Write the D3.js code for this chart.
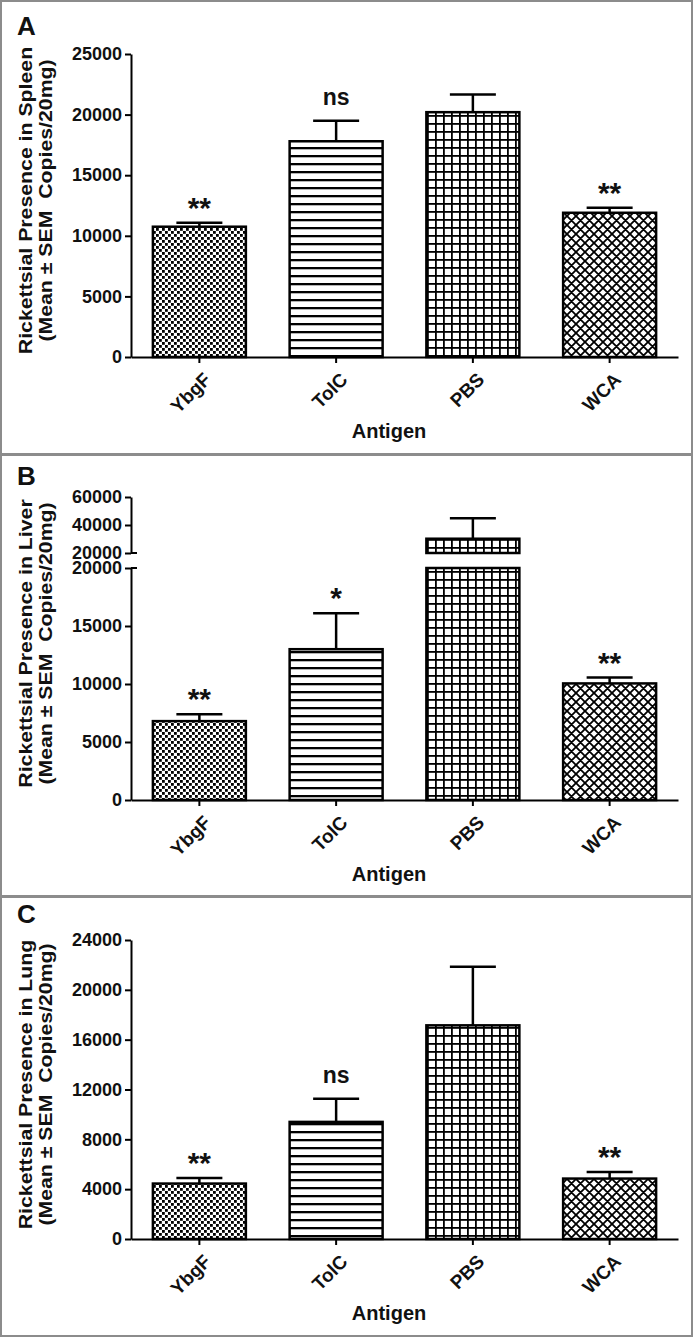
<!DOCTYPE html>
<html><head><meta charset="utf-8">
<script src="https://cdn.jsdelivr.net/npm/d3@7"></script>
<style>
body{margin:0;background:#fff}
svg{display:block}
text{font-family:"Liberation Sans",Arial,sans-serif;font-weight:bold;fill:#111}
</style>
</head><body><svg id="c" width="694" height="1337"></svg>
<script>
// ---------- DATA ----------
const categories = ["YbgF", "TolC", "PBS", "WCA"];
const patternIds = ["checker", "hlines", "grid", "cross"];

const spleenMean = [10750, 17800, 20200, 11900];
const spleenSem = [330, 1700, 1450, 420];
const spleenMarks = ["**", "ns", "", "**"];
const spleenTicks = [0, 5000, 10000, 15000, 20000, 25000];

const liverMean = [6800, 13000, 30200, 10050];
const liverSem = [600, 3100, 14600, 500];
const liverMarks = ["**", "*", "", "**"];
const liverLowTicks = [0, 5000, 10000, 15000, 20000];
const liverHighTicks = [20000, 40000, 60000];

const lungMean = [4450, 9400, 17150, 4850];
const lungSem = [450, 1850, 4700, 520];
const lungMarks = ["**", "ns", "", "**"];
const lungTicks = [0, 4000, 8000, 12000, 16000, 20000, 24000];

const xTitle = "Antigen";
const titleLine2 = "(Mean \u00B1 SEM\u00A0 Copies/20mg)";

// ---------- SETUP ----------
const svg = d3.select("#c");
const defs = svg.append("defs");

// checkerboard
let p = defs.append("pattern").attr("id", "checker").attr("patternUnits", "userSpaceOnUse").attr("width", 6).attr("height", 6);
p.append("rect").attr("width", 6).attr("height", 6).attr("fill", "#fff");
p.append("rect").attr("width", 2.8).attr("height", 2.8).attr("fill", "#000");
p.append("rect").attr("x", 3).attr("y", 3).attr("width", 2.8).attr("height", 2.8).attr("fill", "#000");
// horizontal lines
p = defs.append("pattern").attr("id", "hlines").attr("patternUnits", "userSpaceOnUse").attr("width", 8).attr("height", 8);
p.append("rect").attr("width", 8).attr("height", 8).attr("fill", "#fff");
p.append("rect").attr("y", 3).attr("width", 8).attr("height", 2.3).attr("fill", "#000");
// grid
p = defs.append("pattern").attr("id", "grid").attr("patternUnits", "userSpaceOnUse").attr("width", 8).attr("height", 8);
p.append("rect").attr("width", 8).attr("height", 8).attr("fill", "#fff");
p.append("rect").attr("y", 3).attr("width", 8).attr("height", 1.8).attr("fill", "#000");
p.append("rect").attr("x", 3).attr("width", 1.8).attr("height", 8).attr("fill", "#000");
// diagonal crosshatch
p = defs.append("pattern").attr("id", "cross").attr("patternUnits", "userSpaceOnUse").attr("width", 9).attr("height", 9);
p.append("rect").attr("width", 9).attr("height", 9).attr("fill", "#fff");
p.append("path").attr("d", "M-1,-1L10,10M-1,8L1,10M8,-1L10,1M-1,10L10,-1M-1,1L1,-1M8,10L10,8")
  .attr("stroke", "#000").attr("stroke-width", 1.8).attr("fill", "none");

const X0 = 131, X1 = 678;
const x = d3.scaleBand().domain(categories).range([X0, X1]).paddingInner(0.32).paddingOuter(0.16);

const panels = [
  {
    letter: "A", letterY: 35, top: 0, bottom: 454,
    title: "Rickettsial Presence in Spleen",
    means: spleenMean, sems: spleenSem, marks: spleenMarks,
    segments: [{ domain: [0, 25000], range: [357, 54], ticks: spleenTicks }]
  },
  {
    letter: "B", letterY: 485, top: 454, bottom: 896,
    title: "Rickettsial Presence in Liver",
    means: liverMean, sems: liverSem, marks: liverMarks,
    segments: [
      { domain: [0, 20000], range: [800, 568], ticks: liverLowTicks },
      { domain: [20000, 60000], range: [553, 497], ticks: liverHighTicks }
    ]
  },
  {
    letter: "C", letterY: 923, top: 896, bottom: 1336,
    title: "Rickettsial Presence in Lung",
    means: lungMean, sems: lungSem, marks: lungMarks,
    segments: [{ domain: [0, 24000], range: [1239, 940], ticks: lungTicks }]
  }
];

panels.forEach(cfg => {
  const g = svg.append("g");
  // frame
  g.append("rect").attr("x", 1).attr("y", cfg.top + 1).attr("width", 691).attr("height", cfg.bottom - cfg.top - 1)
    .attr("fill", "none").attr("stroke", "#8c8c8c").attr("stroke-width", 2);

  const scales = cfg.segments.map(s => d3.scaleLinear().domain(s.domain).range(s.range));
  const yOf = v => {
    for (let i = 0; i < cfg.segments.length; i++) {
      if (v <= cfg.segments[i].domain[1] || i === cfg.segments.length - 1) return scales[i](v);
    }
  };
  const axisY = cfg.segments[0].range[0];
  const yTop = cfg.segments[cfg.segments.length - 1].range[1];

  // bars
  categories.forEach((c, i) => {
    const m = cfg.means[i];
    cfg.segments.forEach((s, k) => {
      const lo = s.domain[0], hi = Math.min(m, s.domain[1]);
      if (hi > lo) {
        g.append("rect").attr("x", x(c)).attr("width", x.bandwidth())
          .attr("y", scales[k](hi)).attr("height", scales[k](lo) - scales[k](hi))
          .attr("fill", "url(#" + patternIds[i] + ")").attr("stroke", "#000").attr("stroke-width", 2.5);
      }
    });
    // error bar
    const cx = x(c) + x.bandwidth() / 2;
    const yb = yOf(m), yc = yOf(m + cfg.sems[i]);
    g.append("line").attr("x1", cx).attr("x2", cx).attr("y1", yb).attr("y2", yc).attr("stroke", "#000").attr("stroke-width", 2.5);
    g.append("line").attr("x1", cx - 23).attr("x2", cx + 23).attr("y1", yc).attr("y2", yc).attr("stroke", "#000").attr("stroke-width", 2.5);
    // significance mark
    const mk = cfg.marks[i];
    if (mk) {
      g.append("text").attr("x", cx).attr("y", mk === "ns" ? yc - 16 : yc - 5)
        .attr("text-anchor", "middle").style("font-size", mk === "ns" ? "23px" : "30px").text(mk);
    }
  });

  // y axes
  cfg.segments.forEach((s, k) => {
    const ax = g.append("g").attr("transform", `translate(${X0},0)`)
      .call(d3.axisLeft(scales[k]).tickValues(s.ticks).tickSize(6).tickSizeOuter(0).tickPadding(3).tickFormat(d3.format("d")));
    ax.select(".domain").attr("stroke", "#000").attr("stroke-width", 2);
    ax.selectAll(".tick line").attr("stroke", "#000").attr("stroke-width", 2);
    ax.selectAll(".tick text").style("font-size", "18px").style("font-family", "'Liberation Sans',Arial,sans-serif").style("font-weight", "bold").attr("fill", "#111");
  });
  // break marks
  if (cfg.segments.length > 1) {
    [scales[0](cfg.segments[0].domain[1]), scales[1](cfg.segments[1].domain[0])].forEach(yy => {
      g.append("line").attr("x1", X0).attr("x2", X0 + 6).attr("y1", yy).attr("y2", yy).attr("stroke", "#000").attr("stroke-width", 2);
    });
  }

  // x axis
  const xa = g.append("g").attr("transform", `translate(0,${axisY})`)
    .call(d3.axisBottom(x).tickSize(6).tickSizeOuter(0));
  xa.select(".domain").attr("stroke", "#000").attr("stroke-width", 2);
  xa.selectAll(".tick line").attr("stroke", "#000").attr("stroke-width", 2);
  xa.selectAll(".tick text").remove();
  categories.forEach(c => {
    const cx = x(c) + x.bandwidth() / 2;
    g.append("text").attr("transform", `translate(${cx + 8},${axisY + 19}) rotate(-45)`)
      .attr("text-anchor", "end").attr("dy", "0.35em").style("font-size", "19px").text(c);
  });

  // titles
  g.append("text").attr("x", 389).attr("y", axisY + 81).attr("text-anchor", "middle").style("font-size", "20px").text(xTitle);
  const cy = (axisY + yTop) / 2 - 5;
  g.append("text").attr("transform", `translate(32,${cy}) rotate(-90) scale(1.12,1)`).attr("text-anchor", "middle").style("font-size", "19px").text(cfg.title);
  g.append("text").attr("transform", `translate(52,${cy}) rotate(-90) scale(1.12,1)`).attr("text-anchor", "middle").style("font-size", "19px").text(titleLine2);
  // panel letter
  g.append("text").attr("x", 17).attr("y", cfg.letterY).style("font-size", "26px").text(cfg.letter);
});
</script>
</body></html>
